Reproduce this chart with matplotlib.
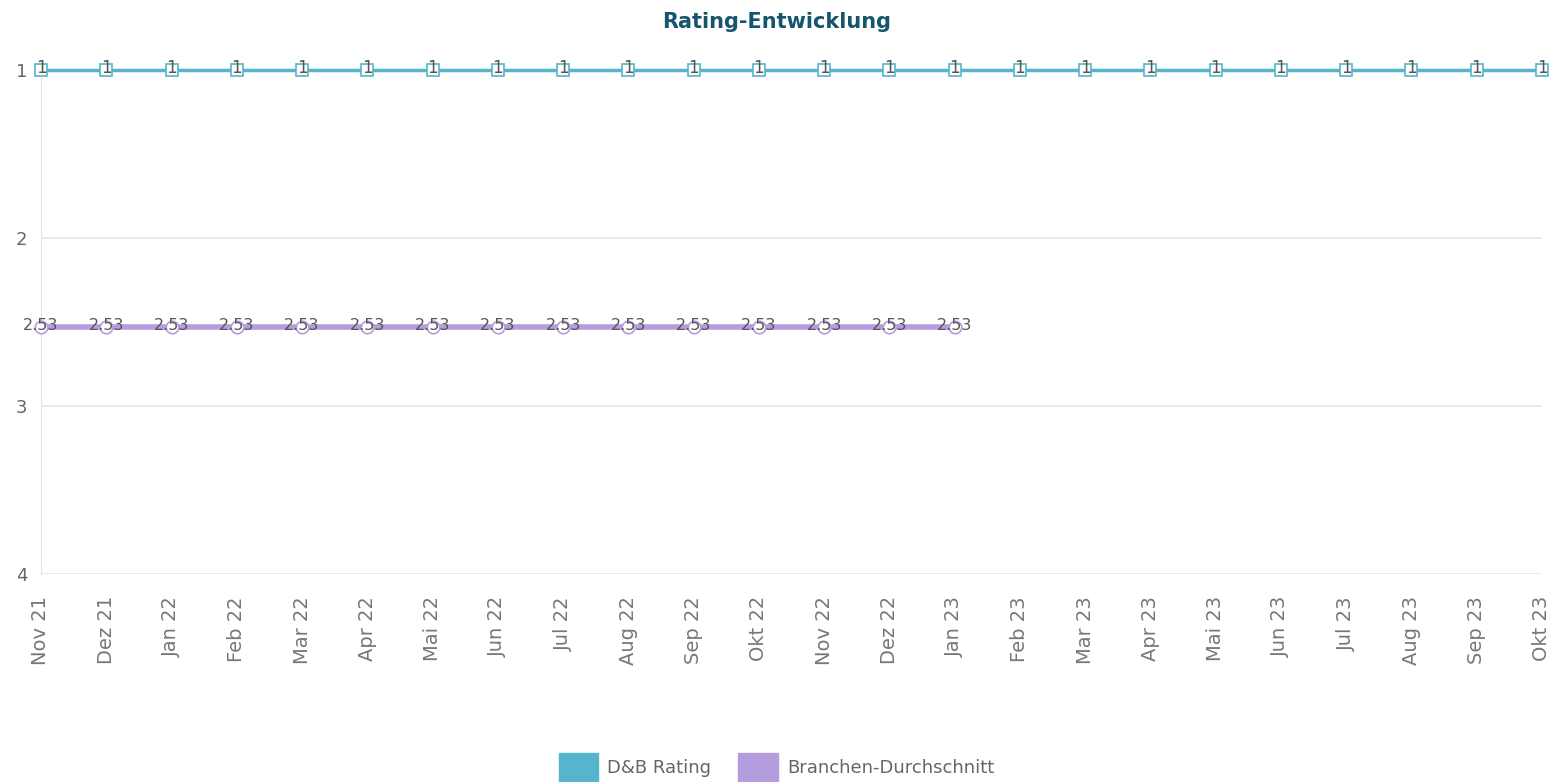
import matplotlib.pyplot as plt
from matplotlib.patches import Patch

plt.rcParams['font.family'] = 'DejaVu Sans'

# Daten
monate = ['Nov 21', 'Dez 21', 'Jan 22', 'Feb 22', 'Mar 22', 'Apr 22', 'Mai 22',
          'Jun 22', 'Jul 22', 'Aug 22', 'Sep 22', 'Okt 22', 'Nov 22', 'Dez 22',
          'Jan 23', 'Feb 23', 'Mar 23', 'Apr 23', 'Mai 23', 'Jun 23', 'Jul 23',
          'Aug 23', 'Sep 23', 'Okt 23']
db_rating = [1] * 24
branche = [2.53] * 15

c_db = '#56b4cc'
c_br = '#b49ddc'

fig = plt.figure(figsize=(15.53, 7.82), dpi=100)
ax = fig.add_axes([0.0264, 0.266, 0.9665, 0.6445])

x_db = list(range(len(db_rating)))
x_br = list(range(len(branche)))

ax.plot(x_db, db_rating, '-', color=c_db, linewidth=2.5, marker='s', markersize=8,
        markerfacecolor='white', markeredgecolor=c_db, markeredgewidth=1.2,
        clip_on=False, zorder=3)
ax.plot(x_br, branche, '-', color=c_br, linewidth=4, marker='o', markersize=9,
        markerfacecolor='white', markeredgecolor=c_br, markeredgewidth=1.2,
        clip_on=False, zorder=3)

for xi, v in zip(x_db, db_rating):
    ax.text(xi, v - 0.01, f'{v}', ha='center', va='center', fontsize=12, color='#555555',
            zorder=4, clip_on=False)
for xi, v in zip(x_br, branche):
    ax.text(xi, v - 0.01, f'{v:.2f}', ha='center', va='center', fontsize=11.5, color='#555555',
            zorder=4, clip_on=False)

ax.set_ylim(4, 1)
ax.set_xlim(0, len(monate) - 1)
ax.set_yticks([1, 2, 3, 4])
ax.set_yticklabels(['1', '2', '3', '4'], fontsize=13, color='#666666')
ax.set_xticks(x_db)
ax.set_xticklabels(monate, rotation=90, fontsize=14, color='#777777')
ax.tick_params(axis='both', length=0)
ax.tick_params(axis='y', pad=10)
ax.tick_params(axis='x', pad=16)

ax.grid(True, axis='y', color='#e6e6e6', linewidth=1.2)
for s in ['top', 'right', 'bottom']:
    ax.spines[s].set_visible(False)
ax.spines['left'].set_color('#e6e6e6')

fig.suptitle('Rating-Entwicklung', x=0.5, y=0.985, fontsize=15, fontweight='bold',
             color='#15566e')

handles = [Patch(facecolor=c_db, edgecolor=c_db, label='D&B Rating'),
           Patch(facecolor=c_br, edgecolor=c_br, label='Branchen-Durchschnitt')]
leg = fig.legend(handles=handles, loc='lower center', bbox_to_anchor=(0.5, -0.02),
                 ncol=2, frameon=False, handlelength=2.2, handleheight=2.0,
                 columnspacing=1.5, handletextpad=0.5,
                 prop={'size': 13})
for t in leg.get_texts():
    t.set_color('#666666')

fig.savefig('out.png', dpi=100)
